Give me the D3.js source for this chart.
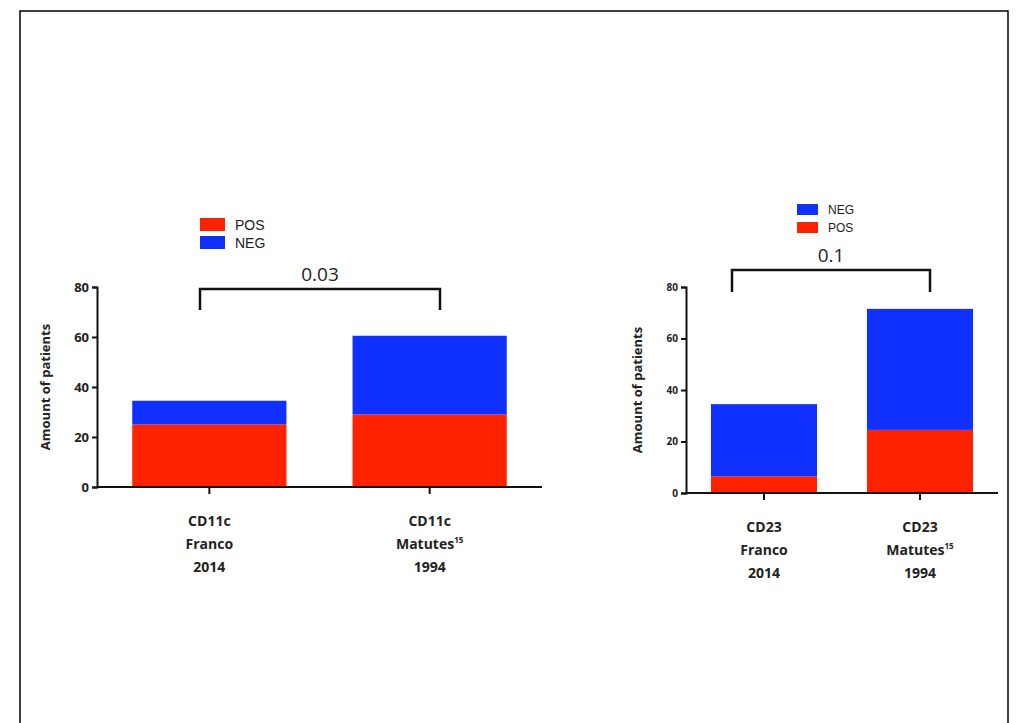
<!DOCTYPE html>
<html><head><meta charset="utf-8">
<script src="https://cdn.jsdelivr.net/npm/d3@7"></script>
<style>body{margin:0;background:#fff}text{font-family:"Open Sans",Arial,sans-serif}</style>
</head><body>
<script>
// values
var cd11cCats = ["CD11c|Franco|2014", "CD11c|Matutes|1994"];
var cd11cPos = [25, 29];
var cd11cNeg = [9.5, 31.5];
var cd23Cats = ["CD23|Franco|2014", "CD23|Matutes|1994"];
var cd23Pos = [6.5, 24.5];
var cd23Neg = [28, 47];
var yTicks = [0, 20, 40, 60, 80];

var RED = "#ff2200", BLUE = "#0f30ff";

var svg = d3.select("body").append("svg").attr("width", 1019).attr("height", 723);
svg.append("rect").attr("x", 20).attr("y", 11).attr("width", 988).attr("height", 730)
    .attr("fill", "none").attr("stroke", "#000").attr("stroke-width", 1.5);

function panel(o) {
    var g = svg.append("g");
    var y = d3.scaleLinear().domain([0, 80]).range([o.y0, o.y80]);
    var x = d3.scaleBand().domain(o.cats).range([o.x0, o.x1]).paddingInner(o.pad).paddingOuter(o.outer);

    o.cats.forEach(function(c, i) {
        g.append("rect").attr("x", x(c)).attr("width", x.bandwidth())
            .attr("y", y(o.pos[i])).attr("height", y(0) - y(o.pos[i])).attr("fill", RED);
        g.append("rect").attr("x", x(c)).attr("width", x.bandwidth())
            .attr("y", y(o.pos[i] + o.neg[i])).attr("height", y(o.pos[i]) - y(o.pos[i] + o.neg[i])).attr("fill", BLUE);
    });

    var ax = g.append("g").attr("transform", "translate(" + o.axX + ",0)")
        .call(d3.axisLeft(y).tickValues(yTicks).tickSize(5).tickPadding(3));
    ax.selectAll("text").attr("font-size", o.fs).attr("font-weight", "bold").attr("fill", "#222");
    ax.selectAll("line,path").attr("stroke", "#111").attr("stroke-width", 2);

    var bx = g.append("g").attr("transform", "translate(0," + o.y0 + ")")
        .call(d3.axisBottom(x).tickSize(7).tickFormat(""));
    bx.select("path").attr("d", "M" + o.axX + ",0H" + o.x1);
    bx.selectAll("line,path").attr("stroke", "#111").attr("stroke-width", 2);

    o.cats.forEach(function(c, i) {
        var parts = c.split("|");
        var t = g.append("text").attr("text-anchor", "middle").attr("font-size", 14)
            .attr("font-weight", "bold").attr("fill", "#222");
        parts.forEach(function(p, j) {
            t.append("tspan").attr("x", x(c) + x.bandwidth() / 2).attr("y", o.y0 + 39 + j * 23).text(p);
            if (j === 1 && i === 1) t.append("tspan").attr("font-size", 8).attr("dy", -6).text("15");
        });
    });

    g.append("text").attr("transform", "translate(" + o.titleX + "," + (o.y0 + o.y80) / 2 + ") rotate(-90)")
        .attr("text-anchor", "middle").attr("font-size", 13).attr("font-weight", "bold").attr("fill", "#222")
        .text("Amount of patients");

    // significance bracket
    g.append("path").attr("d", "M" + o.br[0] + "," + o.br[3] + "V" + o.br[2] + "H" + o.br[1] + "V" + o.br[3])
        .attr("fill", "none").attr("stroke", "#111").attr("stroke-width", 2.5);
    g.append("text").attr("x", (o.br[0] + o.br[1]) / 2).attr("y", o.br[2] - 8).attr("text-anchor", "middle")
        .attr("font-size", 19).attr("fill", "#222").text(o.p);

    o.legend.forEach(function(l, i) {
        g.append("rect").attr("x", o.lx).attr("y", o.ly + i * o.lstep).attr("width", o.lw).attr("height", o.lh)
            .attr("fill", l[1]);
        g.append("text").attr("x", o.lx + o.lw + 10).attr("y", o.ly + i * o.lstep + o.lh - 1)
            .attr("font-size", o.lfs).attr("fill", "#222").style("font-family", "Liberation Sans, Arial").text(l[0]);
    });
}

panel({cats: cd11cCats, pos: cd11cPos, neg: cd11cNeg, y0: 487, y80: 287, axX: 97, x0: 97, x1: 542,
    pad: 0.3, outer: 0.16, fs: 13, titleX: 50, br: [200, 440, 289, 310], p: "0.03",
    legend: [["POS", RED], ["NEG", BLUE]], lx: 200, ly: 218, lstep: 18, lw: 25, lh: 13, lfs: 14});

panel({cats: cd23Cats, pos: cd23Pos, neg: cd23Neg, y0: 493, y80: 287, axX: 686, x0: 686, x1: 998,
    pad: 0.32, outer: 0.16, fs: 10, titleX: 642, br: [732, 930, 270, 292], p: "0.1",
    legend: [["NEG", BLUE], ["POS", RED]], lx: 797, ly: 204, lstep: 18, lw: 21, lh: 11, lfs: 12});
</script>
</body></html>
